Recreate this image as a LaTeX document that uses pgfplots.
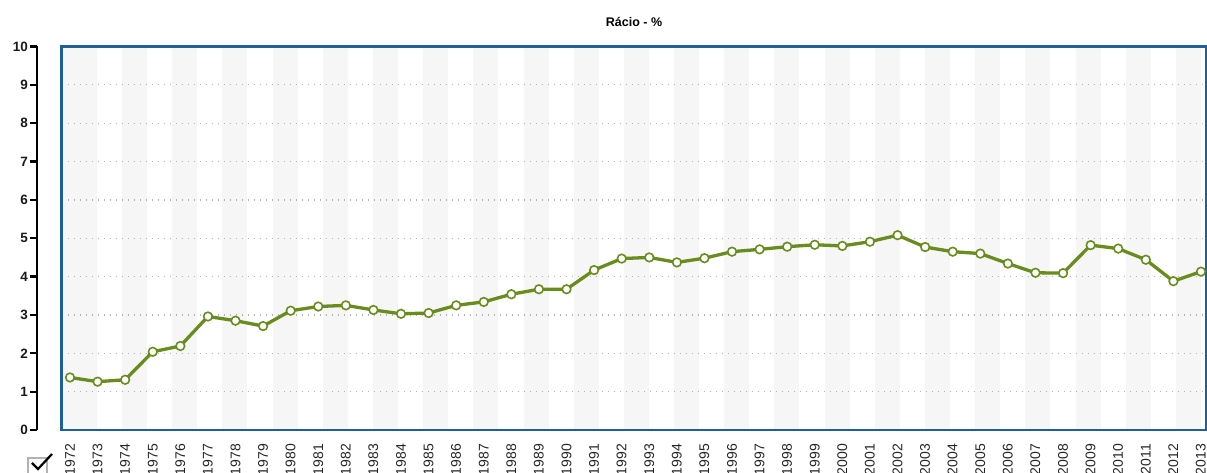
\documentclass[border=0pt]{standalone}
\usepackage{fontspec}
\setmainfont{Liberation Sans}
\usepackage{pgfplots}
\pgfplotsset{compat=1.18}
\definecolor{frameblue}{RGB}{30,96,155}
\definecolor{lineolive}{RGB}{104,140,30}
\definecolor{stripe}{RGB}{246,246,246}
\begin{document}
\begin{tikzpicture}
\useasboundingbox (0,0) rectangle (1207pt,473pt);
% background stripes
\begin{axis}[
  at={(61.5pt,43pt)}, anchor=south west,
  scale only axis, width=1145pt, height=383.5pt,
  xmin=1971.692, xmax=2013.2, ymin=0, ymax=10,
  hide axis,
]
\addplot[draw=none, forget plot] coordinates {(1980,1) (2000,2)};
\fill[stripe] (axis cs:1971.692,0) rectangle (axis cs:1972.979,10);
\pgfplotsinvokeforeach{0,...,21}{
  \fill[stripe] (axis cs:{1973.885+#1*1.8195},0) rectangle (axis cs:{1974.791+#1*1.8195},10);
}
\end{axis}
\begin{axis}[
  at={(61.5pt,43pt)}, anchor=south west,
  scale only axis, width=1145pt, height=383.5pt,
  xmin=1971.692, xmax=2013.2, ymin=0, ymax=10,
  axis line style={frameblue, line width=2.8pt},
  xtick={1972,...,2013}, ytick={1,...,9},
  yticklabels={},
  major tick length=0pt,
  ymajorgrids, grid style={gray!60, line width=1.3pt, dash pattern=on 1.3pt off 4.7pt},
  xticklabel style={rotate=90, anchor=east, font=\fontsize{14}{16}\selectfont, text=black!85},
  xticklabel shift=10.5pt,
  /pgf/number format/1000 sep={}, /pgf/number format/assume math mode=true,
]
\addplot[lineolive, line width=3.3pt, mark=*, mark size=4.3pt,
  mark options={fill=white, draw=lineolive, line width=1.6pt}] table {
x y
1972 1.37
1973 1.26
1974 1.31
1975 2.04
1976 2.19
1977 2.96
1978 2.85
1979 2.71
1980 3.11
1981 3.22
1982 3.25
1983 3.13
1984 3.03
1985 3.05
1986 3.25
1987 3.34
1988 3.54
1989 3.67
1990 3.67
1991 4.17
1992 4.47
1993 4.50
1994 4.37
1995 4.48
1996 4.65
1997 4.71
1998 4.78
1999 4.83
2000 4.80
2001 4.91
2002 5.08
2003 4.77
2004 4.65
2005 4.60
2006 4.34
2007 4.10
2008 4.09
2009 4.82
2010 4.73
2011 4.44
2012 3.88
2013 4.13
};
\end{axis}
\begin{axis}[
  at={(37pt,43pt)}, anchor=south west,
  scale only axis, width=10pt, height=383.5pt,
  xmin=0, xmax=1, ymin=0, ymax=10,
  hide x axis, axis y line*=left,
  y axis line style={-, line width=2.2pt, black},
  ytick={0,...,10}, tick align=outside, major tick length=7pt,
  ytick style={line width=2.2pt, black},
  yticklabel style={font=\bfseries\fontsize{13.5}{15}\selectfont, text=black!90, inner sep=2pt},
  /pgf/number format/assume math mode=true,
]
\addplot[draw=none] coordinates {(0,0) (1,10)};
\end{axis}
\node[font=\bfseries\fontsize{12.5}{14}\selectfont] at (634pt,451pt) {Rácio - \%};
\draw[gray!60, line width=1.3pt] (28pt,-5pt) rectangle (47pt,15pt);
\draw[black, line width=2.2pt] (32pt,10pt) -- (38pt,4pt) -- (52pt,19pt);
\end{tikzpicture}
\end{document}
